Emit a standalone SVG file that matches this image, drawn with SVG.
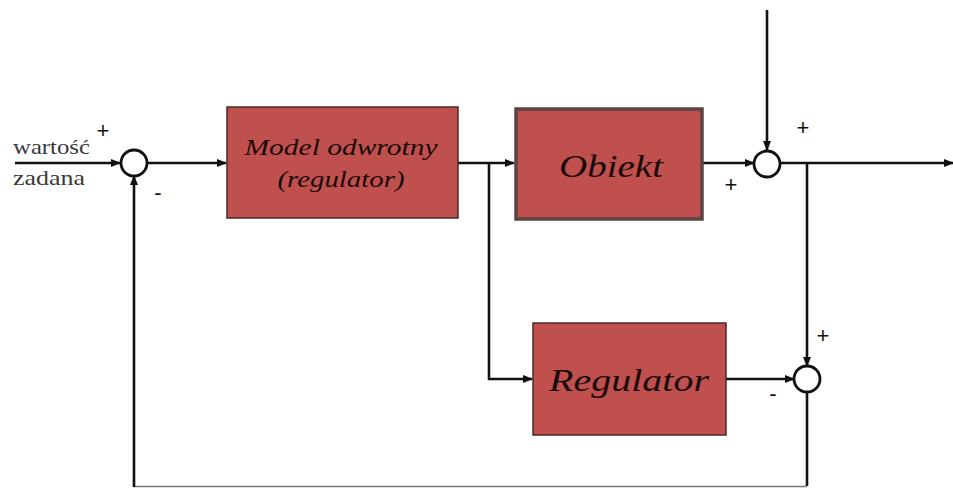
<svg xmlns="http://www.w3.org/2000/svg" width="953" height="488" viewBox="0 0 953 488">
  <style>
    .box { fill: #C0504D; stroke: #4a2a2a; stroke-width: 1.5; }
    .box-thick { fill: #C0504D; stroke: #5a4444; stroke-width: 3.5; }
    .lbl { font-family: "Liberation Serif", "Times New Roman", serif; font-style: italic; fill: #1a0a0a; text-anchor: middle; }
    .sign { font-family: "Liberation Sans", Arial, sans-serif; font-size: 22px; fill: #111; text-anchor: middle; }
    .wire { fill: none; stroke: #111; stroke-width: 2.6; }
    .sum { fill: #fff; stroke: #111; stroke-width: 2.8; }
    .in { font-family: "Liberation Serif", "Times New Roman", serif; font-size: 21px; fill: #3a3a3a; }
  </style>
  <defs>
    <marker id="arr" markerWidth="10" markerHeight="8" refX="9" refY="4" orient="auto" markerUnits="userSpaceOnUse">
      <path d="M0,0 L10,4 L0,8 Z" fill="#111"/>
    </marker>
  </defs>
  <rect width="953" height="488" fill="#fff"/>

  <g id="connectors">
    <!-- reference input -->
    <path class="wire" d="M15,163 L120,163" marker-end="url(#arr)"/>
    <!-- sum 1 to inverse model -->
    <path class="wire" d="M147,163 L226,163" marker-end="url(#arr)"/>
    <!-- inverse model to plant -->
    <path class="wire" d="M458,163 L514,163" marker-end="url(#arr)"/>
    <!-- branch to regulator -->
    <path class="wire" d="M489,163 L489,379 L532,379" marker-end="url(#arr)"/>
    <!-- plant to sum 2 -->
    <path class="wire" d="M703,163 L754,163" marker-end="url(#arr)"/>
    <!-- disturbance from above -->
    <path class="wire" d="M767,10 L767,150" marker-end="url(#arr)"/>
    <!-- output -->
    <path class="wire" d="M780,163 L953,163" marker-end="url(#arr)"/>
    <!-- output branch down to sum 3 -->
    <path class="wire" d="M807,163 L807,366" marker-end="url(#arr)"/>
    <!-- regulator to sum 3 -->
    <path class="wire" d="M726,379 L794,379" marker-end="url(#arr)"/>
    <!-- feedback loop -->
    <path class="wire" d="M807,392 L807,486"/>
    <path d="M807,486.5 L134,486.5" fill="none" stroke="#777" stroke-width="1.5"/>
    <path class="wire" d="M134,487 L134,176" marker-end="url(#arr)"/>
  </g>

  <g id="input-label">
    <text class="in" x="13" y="154" textLength="77" lengthAdjust="spacingAndGlyphs">wartość</text>
    <text class="in" x="13" y="185" textLength="72" lengthAdjust="spacingAndGlyphs">zadana</text>
  </g>

  <g id="sum1">
    <circle class="sum" cx="134" cy="163" r="13"/>
    <text class="sign" x="103" y="138">+</text>
    <text class="sign" x="158" y="200">-</text>
  </g>

  <g id="model">
    <rect class="box" x="227" y="107" width="231" height="111"/>
    <text class="lbl" x="341" y="155" font-size="23" textLength="193" lengthAdjust="spacingAndGlyphs">Model odwrotny</text>
    <text class="lbl" x="341" y="187" font-size="23" textLength="127" lengthAdjust="spacingAndGlyphs">(regulator)</text>
  </g>

  <g id="obiekt">
    <rect class="box-thick" x="516" y="109" width="186" height="110"/>
    <text class="lbl" x="611" y="177" font-size="32" textLength="104" lengthAdjust="spacingAndGlyphs">Obiekt</text>
  </g>

  <g id="regulator">
    <rect class="box" x="533" y="323" width="193" height="112"/>
    <text class="lbl" x="629" y="391" font-size="32" textLength="160" lengthAdjust="spacingAndGlyphs">Regulator</text>
  </g>

  <g id="sum2">
    <circle class="sum" cx="767" cy="164" r="13"/>
    <text class="sign" x="803" y="135">+</text>
    <text class="sign" x="731" y="192">+</text>
  </g>

  <g id="sum3">
    <circle class="sum" cx="807" cy="379" r="13"/>
    <text class="sign" x="823" y="343">+</text>
    <text class="sign" x="773" y="401">-</text>
  </g>
</svg>
